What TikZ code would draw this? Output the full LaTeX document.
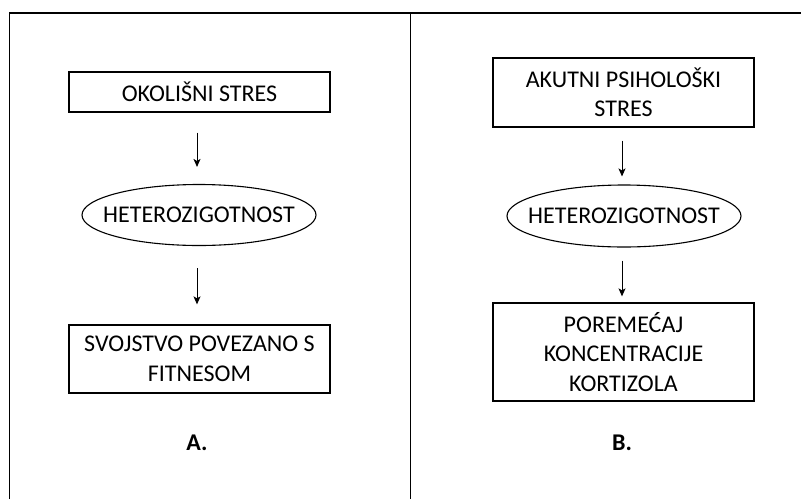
\documentclass[tikz,border=0pt]{standalone}
\usepackage{fontspec}
\setmainfont{Carlito}
\usetikzlibrary{shapes.geometric,arrows.meta}
\tikzset{
  okvir/.style={draw,line width=1.3pt,minimum width=261pt,align=center,inner sep=0pt},
  elipsa/.style={draw,ellipse,line width=1.1pt,minimum width=234pt,minimum height=61pt,inner xsep=-15pt,inner ysep=0pt},
  strelica/.style={-{Stealth[length=8pt,width=7pt,inset=2pt]},line width=1pt}
}
\begin{document}
\begin{tikzpicture}[x=1pt,y=-1pt,font=\fontsize{24}{29.5}\selectfont]
    \useasboundingbox (0,0) rectangle (801,499);
    % okvir i razdjelnica
    \draw[line width=1.4pt] (9.5,499) -- (9.5,13) -- (801,13);
    \draw[line width=1.4pt] (410.5,13) -- (410.5,499);
    % A.
    \node[okvir,minimum height=40pt] (a1) at (199.5,92) {OKOLIŠNI STRES};
    \node[elipsa] (a2) at (199,215) {HETEROZIGOTNOST};
    \node[okvir,minimum height=68pt] (a3) at (199.5,359) {SVOJSTVO POVEZANO S\\FITNESOM};
    \node[font=\fontsize{24}{29.5}\selectfont\bfseries] (la) at (197,443) {A.};
    \draw[strelica,shorten <=20pt,shorten >=17pt] (a1.south -| la) -- (a2.north -| la);
    \draw[strelica,shorten <=22pt,shorten >=20pt] (a2.south -| la) -- (a3.north -| la);
    % B.
    \node[okvir,minimum height=69pt] (b1) at (623.5,92.5) {AKUTNI PSIHOLOŠKI\\STRES};
    \node[elipsa,minimum height=62pt] (b2) at (624,216) {HETEROZIGOTNOST};
    \node[okvir,minimum height=98pt] (b3) at (623.5,352) {POREMEĆAJ\\KONCENTRACIJE\\KORTIZOLA};
    \node[font=\fontsize{24}{29.5}\selectfont\bfseries] (lb) at (622,443) {B.};
    \draw[strelica,shorten <=13pt,shorten >=8pt] (b1.south -| lb) -- (b2.north -| lb);
    \draw[strelica,shorten <=13pt,shorten >=6pt] (b2.south -| lb) -- (b3.north -| lb);
\end{tikzpicture}
\end{document}
